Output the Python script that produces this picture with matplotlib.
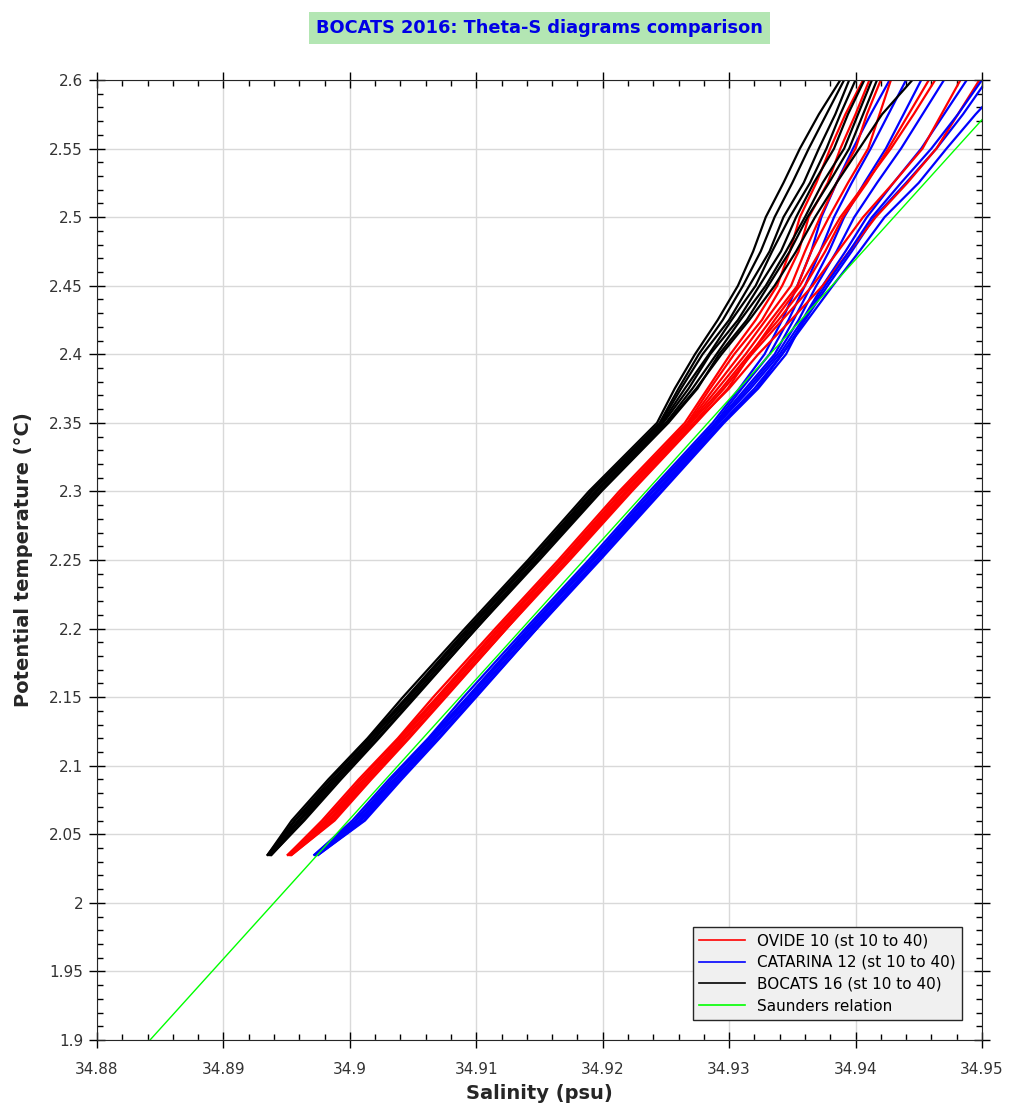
import numpy as np
import matplotlib.pyplot as plt
from matplotlib.ticker import MultipleLocator

theta = [2.035, 2.06, 2.09, 2.12, 2.15, 2.2, 2.25, 2.3, 2.35,
         2.375, 2.4, 2.425, 2.45, 2.475, 2.5, 2.525, 2.55, 2.575, 2.6]

# centre of each cruise's band of profiles (psu)
ovide_mid = [34.8956, 34.8983, 34.9012, 34.9042, 34.9071, 34.9120, 34.9169, 34.9218, 34.9269,
             34.9291, 34.9311, 34.9332, 34.9350, 34.9362, 34.9372, 34.9386, 34.9398, 34.9408, 34.9418]
catarina_mid = [34.8977, 34.9007, 34.9036, 34.9066, 34.9095, 34.9144, 34.9193, 34.9242, 34.9291,
                34.9315, 34.9336, 34.9352, 34.9366, 34.9381, 34.9395, 34.9412, 34.9430, 34.9445, 34.9460]
bocats_mid = [34.8940, 34.8959, 34.8988, 34.9018, 34.9047, 34.9096, 34.9145, 34.9194, 34.9247,
              34.9266, 34.9284, 34.9304, 34.9322, 34.9337, 34.9350, 34.9365, 34.9379, 34.9391, 34.9403]

# station offsets from the band centre, 1e-4 psu
ovide_off = [
    [-5, -5, -5, -4, -5, -5, -4, -5, -4, -8, -10, -11, -12, -14, -16, -17, -18, -16, -12],
    [-5, -3, -3, -3, -2, -3, -2, -3, -2, -6, -7, -6, -8, -7, -9, -8, -10, -8, -7],
    [-4, -2, -1, -1, -1, -1, -1, -2, -1, -3, -2, -3, -1, -2, 0, -1, 2, 1, 2],
    [-4, 0, 0, -1, 0, -1, 0, 0, 0, 0, 2, 1, 4, 3, 7, 8, 12, 11, 10],
    [-3, 1, 1, 1, 2, 1, 2, 1, 1, 3, 5, 7, 10, 14, 18, 23, 28, 34, 40],
    [-3, 2, 3, 2, 2, 2, 3, 2, 3, 5, 7, 10, 16, 24, 34, 44, 55, 60, 65],
    [-2, 4, 3, 4, 4, 4, 3, 4, 4, 9, 12, 17, 24, 33, 44, 55, 66, 73, 80],
    [-2, 5, 5, 5, 5, 4, 5, 5, 5, 8, 6, 4, 6, 10, 16, 22, 30, 38, 45],
]
catarina_off = [
    [-5, -5, -5, -4, -5, -5, -4, -5, -4, -7, -8, -10, -12, -16, -22, -27, -32, -33, -33],
    [-5, -3, -3, -3, -2, -3, -2, -3, -2, -5, -4, -5, -6, -9, -12, -15, -18, -19, -20],
    [-4, -2, -1, -1, -1, -1, -1, -2, -1, -2, 0, -1, -1, -2, -4, -5, -6, -7, -8],
    [-4, 0, 0, -1, 0, -1, 0, 0, 0, 0, 2, 3, 3, 4, 4, 5, 6, 8, 10],
    [-3, 1, 1, 1, 2, 1, 2, 1, 1, 2, 4, 6, 8, 11, 14, 18, 22, 25, 28],
    [-3, 2, 3, 2, 2, 2, 3, 2, 3, 5, 6, 8, 12, 16, 20, 28, 34, 40, 44],
    [-2, 4, 3, 4, 4, 4, 3, 4, 4, 7, 6, 10, 16, 22, 28, 38, 42, 50, 60],
    [-2, 5, 5, 5, 5, 4, 5, 5, 5, 8, 9, 7, 10, 14, 18, 24, 30, 36, 40],
]
bocats_off = [
    [-5, -5, -5, -4, -5, -5, -4, -5, -4, -9, -11, -13, -15, -18, -21, -22, -23, -20, -15],
    [-5, -3, -3, -3, -2, -3, -2, -3, -2, -6, -8, -9, -11, -12, -14, -15, -16, -14, -12],
    [-4, -2, -1, -1, -1, -1, -1, -2, -1, -4, -5, -4, -6, -5, -7, -6, -8, -7, -8],
    [-4, 0, 0, -1, 0, -1, 0, 0, 0, -1, 0, -2, -1, -3, -2, -1, -2, -3, -3],
    [-3, 1, 1, 1, 2, 1, 2, 1, 1, 2, 1, 3, 2, 4, 3, 2, 4, 3, 4],
    [-3, 2, 3, 2, 2, 2, 3, 2, 3, 5, 6, 5, 7, 8, 10, 9, 12, 11, 10],
    [-2, 4, 3, 4, 4, 4, 3, 4, 4, 8, 10, 12, 14, 16, 18, 20, 24, 30, 42],
    [-2, 5, 5, 5, 5, 4, 5, 5, 5, 9, 8, 10, 9, 11, 12, 14, 16, 15, 14],
]

# Saunders relation end points
saunders_s = [34.8842, 34.95]
saunders_t = [1.9, 2.571]

fig = plt.figure(figsize=(10.09, 11.06), dpi=100)
ax = fig.add_axes([0.0961, 0.0597, 0.8771, 0.868])

lw = 1.6
for i in range(len(ovide_off)):
    ax.plot(np.array(ovide_mid) + np.array(ovide_off[i]) * 1e-4, theta, color='#ff0000', lw=lw,
            label='OVIDE 10 (st 10 to 40)' if i == 0 else None)
    ax.plot(np.array(catarina_mid) + np.array(catarina_off[i]) * 1e-4, theta, color='#0000ff', lw=lw,
            label='CATARINA 12 (st 10 to 40)' if i == 0 else None)
    ax.plot(np.array(bocats_mid) + np.array(bocats_off[i]) * 1e-4, theta, color='#000000', lw=lw,
            label='BOCATS 16 (st 10 to 40)' if i == 0 else None)
ax.plot(saunders_s, saunders_t, color='#00ff00', lw=1, label='Saunders relation')

ax.set_xlim(34.88, 34.95)
ax.set_ylim(1.9, 2.6)
ax.xaxis.set_major_locator(MultipleLocator(0.01))
ax.xaxis.set_minor_locator(MultipleLocator(0.002))
ax.yaxis.set_major_locator(MultipleLocator(0.05))
ax.yaxis.set_minor_locator(MultipleLocator(0.01))
ax.set_xticklabels(['%g' % v for v in ax.get_xticks()])
ax.set_yticklabels(['%g' % v for v in ax.get_yticks()])
ax.grid(True, which='major', color='#d9d9d9', lw=1)
ax.set_axisbelow(True)
ax.tick_params(which='major', direction='inout', length=12, width=1, top=True, right=True,
               labelsize=11, labelcolor='#333333', pad=4)
ax.tick_params(axis='x', which='major', pad=10)
ax.tick_params(which='minor', direction='in', length=4, width=1, top=True, right=True)
for sp in ax.spines.values():
    sp.set_color('#262626')

ax.set_xlabel('Salinity (psu)', fontsize=14, fontweight='bold', color='#262626', labelpad=5)
ax.set_ylabel('Potential temperature (°C)', fontsize=14, fontweight='bold', color='#262626', labelpad=12)

fig.text(0.535, 0.9747, 'BOCATS 2016: Theta-S diagrams comparison', ha='center', va='center',
         fontsize=12.75, fontweight='bold', color='#0000e6',
         bbox=dict(boxstyle='square,pad=0.4', facecolor='#b3e6b3', edgecolor='none'))

leg = ax.legend(loc='lower right', bbox_to_anchor=(0.977, 0.021), borderaxespad=0,
                fontsize=11, fancybox=False, framealpha=1, facecolor='#f0f0f0',
                edgecolor='#262626', handlelength=3, labelspacing=0.45)
leg.get_frame().set_linewidth(1)
for line in leg.get_lines():
    line.set_linewidth(1.2)

fig.savefig('out.png', dpi=100)
